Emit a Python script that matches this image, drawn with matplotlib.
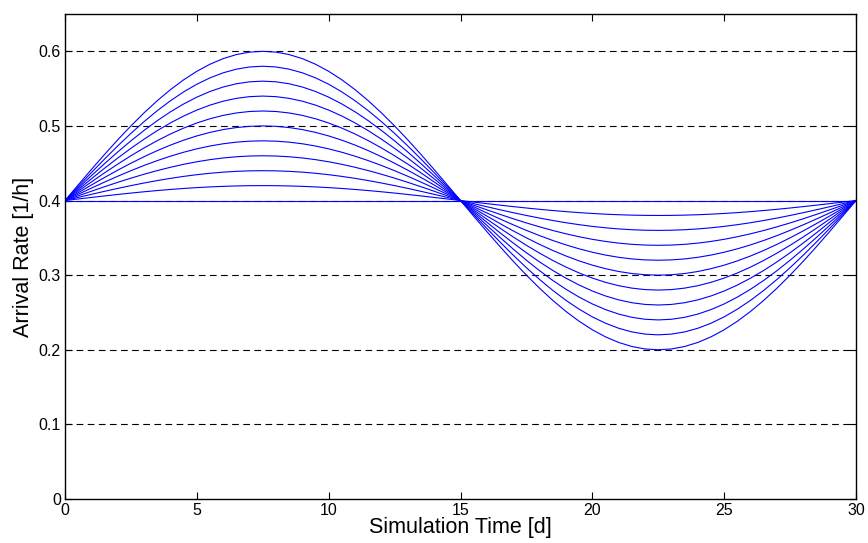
import numpy as np
import matplotlib
matplotlib.use("Agg")
import matplotlib.pyplot as plt

plt.rcParams['font.family'] = ['Liberation Sans', 'DejaVu Sans']

# Data
base_rate = 0.4                     # common value at t = 0, 15, 30
peak_values = [0.40, 0.42, 0.44, 0.46, 0.48, 0.50, 0.52, 0.54, 0.56, 0.58, 0.60]
period_days = 30
days = np.linspace(0, 30, 61)       # sample times [d]
x_ticks = [0, 5, 10, 15, 20, 25, 30]
y_ticks = [0, 0.1, 0.2, 0.3, 0.4, 0.5, 0.6]
y_tick_labels = ['0', '0.1', '0.2', '0.3', '0.4', '0.5', '0.6']

fig = plt.figure(figsize=(8.68, 5.43), dpi=100)
ax = fig.add_axes([65/868, 1 - 499/543, (856-65)/868, (499-14)/543])

for pk in peak_values:
    amp = pk - base_rate
    rate = base_rate + amp * np.sin(2 * np.pi * days / period_days)
    ax.plot(days, rate, color='#0000ff', lw=0.8)

for y in y_ticks[1:]:
    ax.axhline(y, color='black', lw=0.8, ls=(0, (6, 4)), zorder=0)

ax.set_xlim(0, 30)
ax.set_ylim(0, 0.65)
ax.set_xticks(x_ticks)
ax.set_yticks(y_ticks)
ax.set_yticklabels(y_tick_labels)
ax.tick_params(direction='in', length=5, width=0.8, top=True, right=True,
               labelsize=11.5, pad=3)
for s in ax.spines.values():
    s.set_linewidth(1.0)
ax.set_xlabel('Simulation Time [d]', fontsize=15.5, labelpad=-1)
ax.set_ylabel('Arrival Rate [1/h]', fontsize=15.5, labelpad=3)

fig.savefig('out.png', dpi=100)
